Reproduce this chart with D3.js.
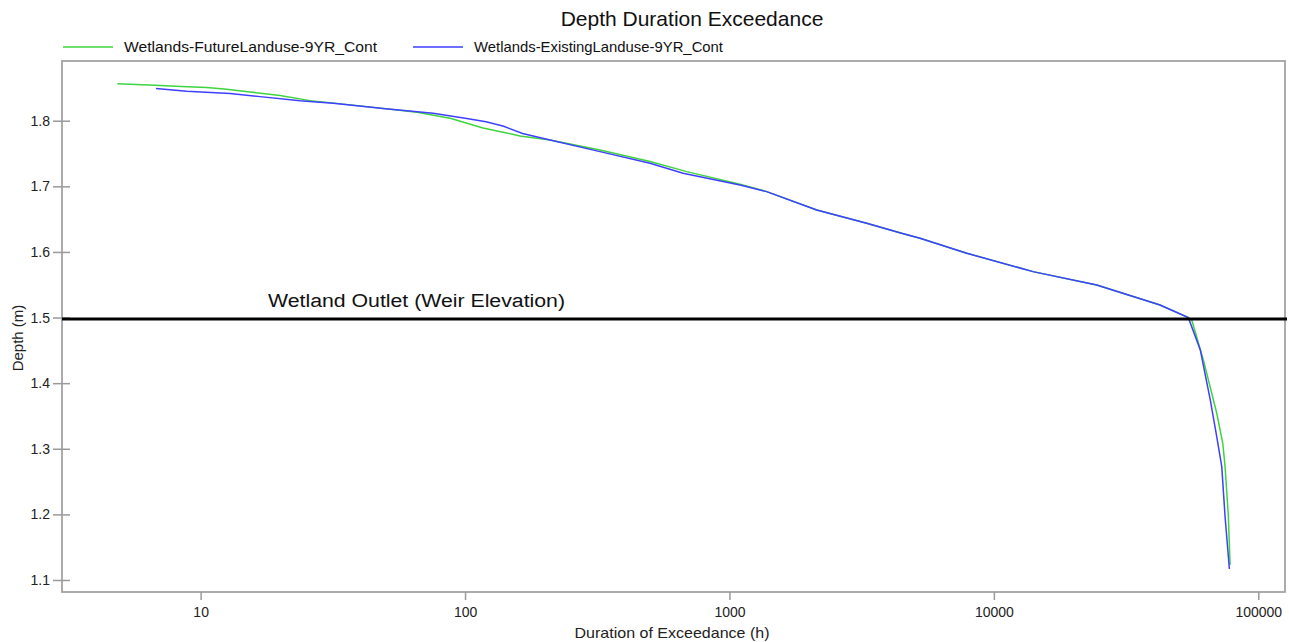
<!DOCTYPE html>
<html><head><meta charset="utf-8">
<script src="https://cdn.jsdelivr.net/npm/d3@7"></script>
<style>body{margin:0;background:#fff}svg{display:block}text{font-family:"Liberation Sans",Arial,sans-serif}</style>
</head><body><svg id="c" width="1289" height="642"></svg>
<script>
const title = "Depth Duration Exceedance";
const seriesNames = ["Wetlands-FutureLanduse-9YR_Cont", "Wetlands-ExistingLanduse-9YR_Cont"];
const xTicks = [10, 100, 1000, 10000, 100000];
const yTicks = [1.1, 1.2, 1.3, 1.4, 1.5, 1.6, 1.7, 1.8];
const weirDepth = 1.5;
const weirLabel = "Wetland Outlet (Weir Elevation)";
// Future landuse (green): [duration h, depth m]
const futureDur = [4.84, 6.72, 8.48, 10.55, 12.55, 15.38, 19.97, 25.93, 40.1, 65.7, 87.8, 117, 161.4, 209.7, 324, 500.8, 689.5, 1096, 1383, 2138, 3304, 4441, 5257, 7899, 14060, 24490, 42510, 54390, 56030, 61990, 69660, 73400, 74890, 77080, 78230];
const futureDepth = [1.8565, 1.8541, 1.852, 1.8505, 1.848, 1.8439, 1.8383, 1.8306, 1.8226, 1.813, 1.8038, 1.789, 1.7768, 1.7707, 1.7555, 1.7377, 1.7224, 1.7032, 1.6919, 1.664, 1.6438, 1.6288, 1.6209, 1.598, 1.57, 1.5497, 1.5192, 1.4998, 1.4963, 1.4354, 1.3541, 1.3084, 1.2727, 1.1965, 1.1229];
// Existing landuse (blue)
const existDur = [6.78, 8.86, 12.92, 16.77, 23.77, 31.7, 48.97, 75.7, 101.5, 120, 140, 165, 209.7, 324, 500.8, 667.6, 1096, 1383, 2138, 3304, 4441, 5257, 7899, 14060, 24490, 42510, 54390, 60350, 65830, 69640, 72760, 74890, 77760];
const existDepth = [1.849, 1.845, 1.8413, 1.8367, 1.8306, 1.8267, 1.8185, 1.8114, 1.8032, 1.7985, 1.7915, 1.7805, 1.7707, 1.7529, 1.7352, 1.72, 1.7021, 1.6919, 1.664, 1.6438, 1.6288, 1.6209, 1.598, 1.57, 1.5497, 1.5192, 1.4998, 1.4506, 1.3744, 1.3184, 1.2727, 1.1965, 1.1168];
const colors = ["#3fd43f", "#3f3fff"];

const svg = d3.select("#c");
const L = 62, R = 1285, T = 61, B = 592;
const x = d3.scaleLog().domain([2.99, 126200]).range([L, R]);
const y = d3.scaleLinear().domain([1.0817, 1.891]).range([B, T]);

svg.append("text").attr("x", 692).attr("y", 26).attr("text-anchor", "middle")
  .attr("font-size", 21).attr("fill", "#111").text(title);

// legend
const legX = [63, 413];
const legW = [253, 249];
seriesNames.forEach((n, i) => {
  svg.append("line").attr("x1", legX[i]).attr("x2", legX[i] + 50).attr("y1", 47).attr("y2", 47)
    .attr("stroke", colors[i]).attr("stroke-width", 1.5);
  svg.append("text").attr("x", legX[i] + 61).attr("y", 52).attr("font-size", 15)
    .attr("textLength", legW[i]).attr("lengthAdjust", "spacingAndGlyphs").attr("fill", "#111").text(n);
});

// frame
svg.append("rect").attr("x", L).attr("y", T).attr("width", R - L).attr("height", B - T)
  .attr("fill", "none").attr("stroke", "#a3a3a3").attr("stroke-width", 1.8);

// axes
const yAx = svg.append("g").attr("transform", `translate(${L},0)`)
  .call(d3.axisLeft(y).tickValues(yTicks).tickFormat(d3.format(".1f")).tickSize(9).tickPadding(3));
yAx.select(".domain").remove();
yAx.selectAll("line").attr("stroke", "#9a9a9a").attr("stroke-width", 1.5).attr("x2", -9).attr("x1", 8);
yAx.selectAll("text").attr("font-size", 14).attr("fill", "#222").attr("font-family", "Liberation Sans, Arial, sans-serif");

const xAx = svg.append("g").attr("transform", `translate(0,${B})`)
  .call(d3.axisBottom(x).tickValues(xTicks).tickFormat(d3.format("d")).tickSize(8).tickPadding(7));
xAx.select(".domain").remove();
xAx.selectAll("line").attr("stroke", "#9a9a9a").attr("stroke-width", 1.5);
xAx.selectAll("text").attr("font-size", 14).attr("fill", "#222").attr("font-family", "Liberation Sans, Arial, sans-serif");

svg.append("text").attr("x", 672).attr("y", 638).attr("text-anchor", "middle")
  .attr("font-size", 15).attr("textLength", 195).attr("lengthAdjust", "spacingAndGlyphs")
  .attr("fill", "#222").text("Duration of Exceedance (h)");
svg.append("text").attr("transform", "translate(23,338) rotate(-90)").attr("text-anchor", "middle")
  .attr("font-size", 15).attr("fill", "#222").text("Depth (m)");

// series
const line = d3.line().x(d => x(d[0])).y(d => y(d[1])).curve(d3.curveMonotoneX);
const sets = [d3.zip(futureDur, futureDepth), d3.zip(existDur, existDepth)];
sets.forEach((s, i) => {
  svg.append("path").datum(s).attr("d", d3.line().x(d => x(d[0])).y(d => y(d[1]))).attr("fill", "none")
    .attr("stroke", colors[i]).attr("stroke-width", 1.5);
});

// weir line
svg.append("line").attr("x1", L).attr("x2", R + 2).attr("y1", y(weirDepth) + 1.5).attr("y2", y(weirDepth) + 1.5)
  .attr("stroke", "#000").attr("stroke-width", 3);
svg.append("text").attr("x", 268).attr("y", 307).attr("font-size", 18)
  .attr("textLength", 297).attr("lengthAdjust", "spacingAndGlyphs").attr("fill", "#111").text(weirLabel);
</script></body></html>
